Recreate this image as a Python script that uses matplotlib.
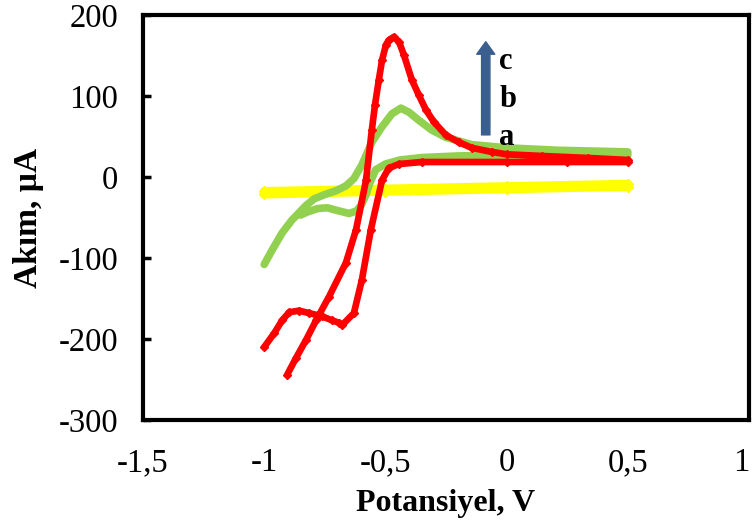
import matplotlib
matplotlib.use("Agg")
import matplotlib.pyplot as plt
from matplotlib.ticker import FuncFormatter

# ---- data ----
# a : yellow (forward and reverse branches)
a_V = [-1.0, -0.5, 0.0, 0.5, 0.5, 0.0, -0.5, -1.0]
a_I = [-21.5, -18.0, -15.0, -12.0, -8.5, -11.5, -14.5, -17.5]

# b : green
b_V = [-1.0, -0.967, -0.926, -0.885, -0.856, -0.827, -0.794, -0.753, -0.704, -0.663,
       -0.630, -0.597, -0.556, -0.514, -0.473, -0.436, -0.403, -0.362, -0.309, -0.251,
       -0.144, 0.0, 0.214, 0.50,
       0.50, 0.20, 0.0, -0.20, -0.35, -0.44, -0.50, -0.54, -0.565, -0.58, -0.60,
       -0.62, -0.65, -0.69, -0.74, -0.78, -0.82, -0.85]
b_I = [-108, -90, -69, -53, -44, -35, -27, -22, -17, -11,
       -2, 15, 43, 62, 78, 85, 80, 70, 58, 49,
       40, 36, 33, 31,
       27, 27, 27, 26, 24, 21, 16, 9, -8, -22, -35,
       -42, -45, -42, -38, -39, -43, -47]

# c : red
c_V = [-1.0, -0.959, -0.926, -0.897, -0.856, -0.815, -0.761, -0.72, -0.691, -0.679,
       -0.630, -0.597, -0.560, -0.514, -0.486, -0.444, -0.350, 0.0, 0.25, 0.50,
       0.502, 0.337, 0.144, 0.0, -0.062, -0.144, -0.198, -0.251, -0.30, -0.333,
       -0.362, -0.391, -0.424, -0.444, -0.465, -0.486, -0.498, -0.514, -0.527, -0.543,
       -0.556, -0.580, -0.621, -0.663, -0.733, -0.786, -0.827, -0.868, -0.905]
c_I = [-210, -193, -177, -167, -165, -168, -172, -177, -180, -183,
       -168, -127, -65, -4, 11, 16, 18.5, 18.5, 18.5, 18.5,
       21, 23.5, 26, 28, 31, 36, 43, 52, 68, 83,
       101, 120, 151, 167, 173, 169, 163, 144, 120, 89,
       58, -4, -65, -106, -148, -177, -201, -223, -244]

x_ticks = [-1.5, -1.0, -0.5, 0.0, 0.5, 1.0]
y_ticks = [-300, -200, -100, 0, 100, 200]
curve_labels = ["c", "b", "a"]

# ---- figure ----
plt.rcParams['font.family'] = ['Liberation Serif', 'DejaVu Serif']
fig = plt.figure(figsize=(7.52, 5.32), dpi=100)
ax = fig.add_axes([143/752, 1-420/532, (749-143)/752, (420-15)/532])

ax.plot(a_V, a_I, color='#FFFF00', lw=6, marker='D', ms=5.5, solid_joinstyle='round',
        solid_capstyle='round', zorder=2)
ax.plot(b_V, b_I, color='#92D050', lw=5.5, solid_joinstyle='round',
        solid_capstyle='round', zorder=3)
ax.plot(c_V, c_I, color='#FF0000', lw=4.8, marker='D', ms=4.5, solid_joinstyle='round',
        solid_capstyle='round', zorder=4)

ax.set_xlim(-1.5, 1.0)
ax.set_ylim(-300, 200)
ax.set_xticks(x_ticks)
ax.set_yticks(y_ticks)
fmt = FuncFormatter(lambda v, p: ('%g' % v).replace('.', ','))
ax.xaxis.set_major_formatter(fmt)
ax.yaxis.set_major_formatter(fmt)
ax.tick_params(axis='x', length=0, pad=20, labelsize=23.5)
ax.tick_params(axis='y', direction='in', length=6, width=2.5, pad=18, labelsize=23.5)
for s in ax.spines.values():
    s.set_linewidth(3)
    s.set_color('black')

# keep the last x tick label ("1") inside the picture
fig.canvas.draw()
xt = ax.get_xticklabels()
xt[-1].set_horizontalalignment('right')
xt[-1].set_x(1.0)

ax.set_xlabel('Potansiyel, V', fontsize=23, fontweight='bold', labelpad=8)
ax.set_ylabel('Akım, µA', fontsize=24, fontweight='bold', labelpad=10)

# arrow with labels
ax.annotate('', xy=(-0.086, 167), xytext=(-0.086, 52),
            arrowprops=dict(facecolor='#3A5F8F', edgecolor='#3A5F8F',
                            width=6, headwidth=13, headlength=9))
for lab, yv in zip(curve_labels, [142, 96, 49]):
    ax.text(-0.03, yv, lab, fontsize=22, fontweight='bold', va='center', ha='left')

fig.savefig('out.png', dpi=100)
